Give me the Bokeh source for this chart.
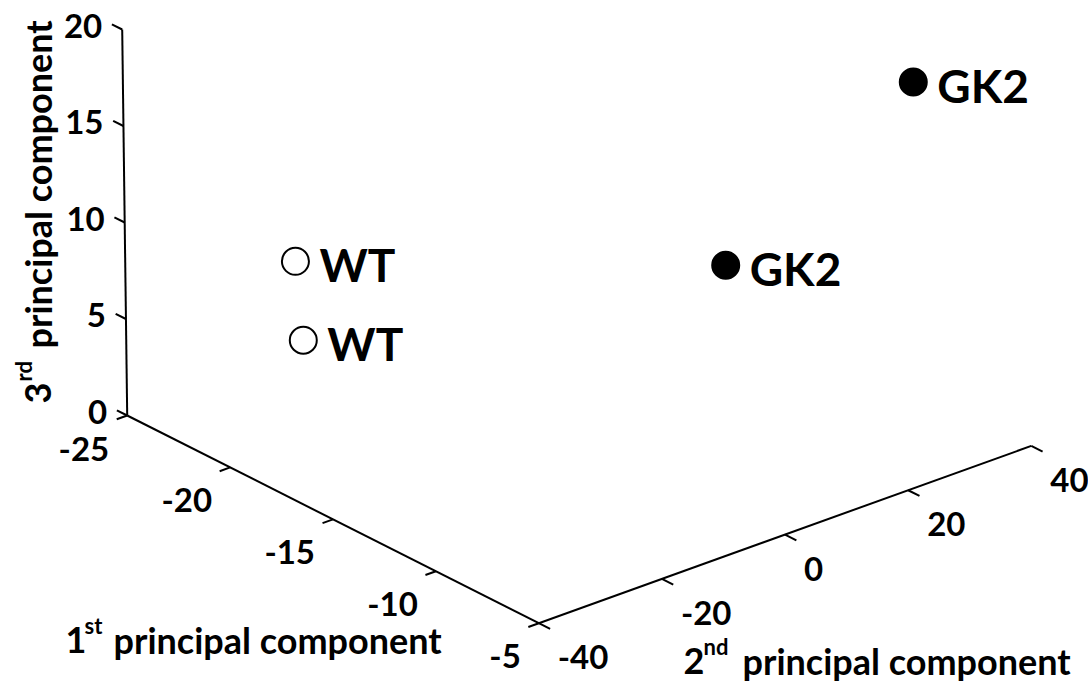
import numpy as np
from bokeh.plotting import figure
from bokeh.models import Range1d, ColumnDataSource
from bokeh.embed import file_html
from bokeh.resources import INLINE
from bokeh.core.properties import value

# ---------------- data ----------------
sample_labels = ["WT", "WT", "GK2", "GK2"]
sample_group = ["WT", "WT", "GK2", "GK2"]
pc1_values = [-21.0, -20.0, -10.0, -8.0]
pc2_values = [-25.7, -27.9, 7.5, 31.6]
pc3_values = [8.5, 5.2, 10.4, 18.2]

pc1_ticks = [-25, -20, -15, -10, -5]
pc2_ticks = [-40, -20, 0, 20, 40]
pc3_ticks = [0, 5, 10, 15, 20]
pc1_range = (-25, -5)
pc2_range = (-40, 40)
pc3_range = (0, 20)

# ---------------- view (oblique 3D projection) ----------------
ORIGIN = np.array([126.7, 415.0])   # screen point of the (pc1 min, pc2 min, pc3 min) corner
U1 = np.array([20.58, 10.385])      # screen step per unit of pc1
U2 = np.array([6.156, -2.216])      # screen step per unit of pc2
U3 = np.array([-0.25, -19.3])       # screen step per unit of pc3


def project(a, b, c):
    a = np.asarray(a, dtype=float) - pc1_range[0]
    b = np.asarray(b, dtype=float) - pc2_range[0]
    c = np.asarray(c, dtype=float) - pc3_range[0]
    sx = ORIGIN[0] + a * U1[0] + b * U2[0] + c * U3[0]
    sy = ORIGIN[1] + a * U1[1] + b * U2[1] + c * U3[1]
    return sx, sy


FONT = value("Lato")
W, H = 1088, 684
p = figure(width=W, height=H, x_range=Range1d(0, W), y_range=Range1d(H, 0),
           x_axis_type=None, y_axis_type=None, toolbar_location=None,
           output_backend="svg", min_border=0)
p.outline_line_color = None
p.background_fill_color = "white"
p.border_fill_color = "white"

LW = 2

# ---- axis lines ----
n1 = len(pc1_ticks); n2 = len(pc2_ticks); n3 = len(pc3_ticks)
ax_x0, ax_y0 = project([pc1_range[0], pc1_range[1], pc1_range[0]],
                       [pc2_range[0], pc2_range[0], pc2_range[0]],
                       [pc3_range[0], pc3_range[0], pc3_range[0]])
ax_x1, ax_y1 = project([pc1_range[1], pc1_range[1], pc1_range[0]],
                       [pc2_range[0], pc2_range[1], pc2_range[0]],
                       [pc3_range[0], pc3_range[0], pc3_range[1]])
p.segment(x0=ax_x0, y0=ax_y0, x1=ax_x1, y1=ax_y1, line_color="black", line_width=LW)

# ---- ticks ----
t1x0, t1y0 = project(pc1_ticks, [pc2_range[0]] * n1, [0] * n1)
t1x1, t1y1 = project(pc1_ticks, [pc2_range[0] - 1.7] * n1, [0] * n1)
p.segment(x0=t1x0, y0=t1y0, x1=t1x1, y1=t1y1, line_color="black", line_width=LW)
t2x0, t2y0 = project([pc1_range[1]] * n2, pc2_ticks, [0] * n2)
t2x1, t2y1 = project([pc1_range[1] + 0.55] * n2, pc2_ticks, [0] * n2)
p.segment(x0=t2x0, y0=t2y0, x1=t2x1, y1=t2y1, line_color="black", line_width=LW)
t3x0, t3y0 = project([pc1_range[0]] * n3, [pc2_range[0]] * n3, pc3_ticks)
t3x1, t3y1 = project([pc1_range[0] - 0.5] * n3, [pc2_range[0]] * n3, pc3_ticks)
p.segment(x0=t3x0, y0=t3y0, x1=t3x1, y1=t3y1, line_color="black", line_width=LW)

# ---- tick labels ----
TICK_FS = "33px"
common = dict(text_font=FONT, text_font_style="bold", text_color="black",
              text_baseline="alphabetic")
p.text(x=t1x0, y=t1y0, text=[str(v) for v in pc1_ticks], x_offset=-18, y_offset=33,
       text_align="right", text_font_size=TICK_FS, **common)
p.text(x=t2x0, y=t2y0, text=[str(v) for v in pc2_ticks], x_offset=19, y_offset=34,
       text_align="left", text_font_size=TICK_FS, **common)
p.text(x=t3x0, y=t3y0, text=[str(v) for v in pc3_ticks], x_offset=-20, y_offset=-4,
       text_align="right", text_font_size=TICK_FS, **common)

# ---- axis titles ----
TITLE_FS = "36px"
SUP_FS = "22px"


def txt(x, y, s, size, angle=0.0):
    p.text(x=[x], y=[y], text=[s], angle=angle, text_align="left",
           text_font_size=size, **common)


txt(65, 639, "1", TITLE_FS)
txt(84, 625, "st", SUP_FS)
txt(113, 639, "principal component", TITLE_FS)

txt(683, 660, "2", TITLE_FS)
txt(703, 646, "nd", SUP_FS)
txt(742, 660, "principal component", TITLE_FS)

txt(37, 403, "3", TITLE_FS, angle=np.pi / 2)
txt(23, 381, "rd", SUP_FS, angle=np.pi / 2)
txt(37, 348, "principal component", TITLE_FS, angle=np.pi / 2)

# ---- points ----
px, py = project(pc1_values, pc2_values, pc3_values)
fills = ["white" if g == "WT" else "black" for g in sample_group]
src = ColumnDataSource(dict(x=px, y=py, label=sample_labels, fill=fills))
p.scatter(x="x", y="y", source=src, marker="circle", size=27, fill_color="fill",
          line_color="black", line_width=2)
p.text(x="x", y="y", text="label", source=src, x_offset=24, y_offset=3,
       text_align="left", text_font_size="46px", **common)

open("out.html", "w").write(file_html(p, INLINE))
